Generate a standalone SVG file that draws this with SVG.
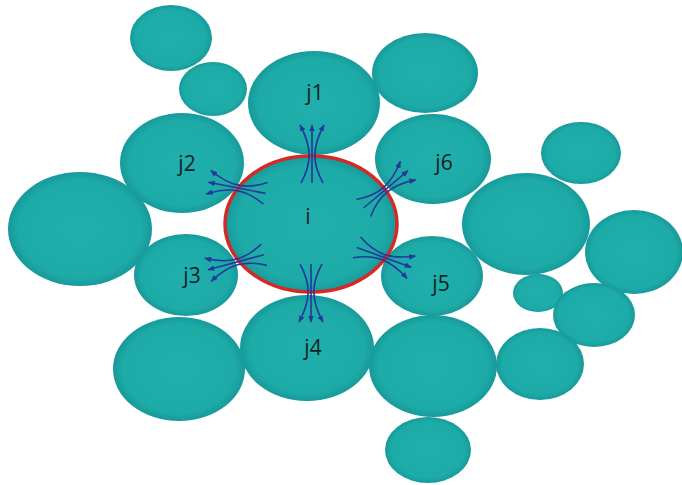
<svg xmlns="http://www.w3.org/2000/svg" width="682" height="485" viewBox="0 0 682 485">
  <defs>
    <radialGradient id="ball" cx="50%" cy="50%" r="50%">
      <stop offset="0%" stop-color="#20afac"/>
      <stop offset="85%" stop-color="#1daba8"/>
      <stop offset="100%" stop-color="#17999a"/>
    </radialGradient>
    <marker id="tip" viewBox="0 0 10 10" refX="9" refY="5" markerWidth="7" markerHeight="7" markerUnits="userSpaceOnUse" orient="auto">
      <path d="M0,1 L10,5 L0,9 Z" fill="#23389a" stroke="none"/>
    </marker>
    <!-- three flux lines pinched at the boundary, outward along +x -->
    <g id="flux">
      <path d="M-28,-11 C-8,0 8,0 30,-12"/>
      <path d="M-28,0 L30,0"/>
      <path d="M-28,11 C-8,0 8,0 30,12"/>
    </g>
  </defs>
  <style>
    .cell { fill: url(#ball); }
    .centre { fill: url(#ball); stroke: #d32a26; stroke-width: 3.5; }
    .lbl { font-family: "Open Sans", "Noto Sans", sans-serif; font-size: 21px; fill: #142222; text-anchor: middle; }
    #connectors { fill: none; stroke: #23389a; stroke-width: 1.6; marker-end: url(#tip); }
  </style>
  <rect width="682" height="485" fill="#ffffff"/>

  <!-- surrounding cells -->
  <g id="c-topleft"><ellipse class="cell" cx="171" cy="38" rx="41" ry="33"/></g>
  <g id="c-small1"><ellipse class="cell" cx="213" cy="89" rx="34" ry="27"/></g>
  <g id="c-topright"><ellipse class="cell" cx="425" cy="73" rx="53" ry="40"/></g>
  <g id="c-left"><ellipse class="cell" cx="80" cy="229" rx="72" ry="57"/></g>
  <g id="c-right"><ellipse class="cell" cx="526" cy="224" rx="64" ry="51"/></g>
  <g id="c-right-top"><ellipse class="cell" cx="581" cy="153" rx="40" ry="31"/></g>
  <g id="c-farright"><ellipse class="cell" cx="634" cy="252" rx="49" ry="42"/></g>
  <g id="c-tiny"><ellipse class="cell" cx="538" cy="293" rx="25" ry="19"/></g>
  <g id="c-r2"><ellipse class="cell" cx="594" cy="315" rx="41" ry="32"/></g>
  <g id="c-r3"><ellipse class="cell" cx="540" cy="364" rx="44" ry="36"/></g>
  <g id="c-botleft"><ellipse class="cell" cx="179" cy="369" rx="66" ry="52"/></g>
  <g id="c-botright"><ellipse class="cell" cx="433" cy="366" rx="64" ry="51"/></g>
  <g id="c-bottom"><ellipse class="cell" cx="428" cy="450" rx="43" ry="33"/></g>

  <!-- neighbours j1..j6 -->
  <g id="j1"><ellipse class="cell" cx="314" cy="103" rx="66" ry="52"/><text class="lbl" x="315" y="100">j1</text></g>
  <g id="j2"><ellipse class="cell" cx="182" cy="163" rx="62" ry="50"/><text class="lbl" x="187" y="171">j2</text></g>
  <g id="j6"><ellipse class="cell" cx="433" cy="159" rx="58" ry="45"/><text class="lbl" x="444" y="170">j6</text></g>
  <g id="j3"><ellipse class="cell" cx="186" cy="275" rx="52" ry="41"/><text class="lbl" x="192" y="283">j3</text></g>
  <g id="j5"><ellipse class="cell" cx="432" cy="276" rx="51" ry="40"/><text class="lbl" x="441" y="291">j5</text></g>
  <g id="j4"><ellipse class="cell" cx="307" cy="348" rx="67" ry="53"/><text class="lbl" x="313" y="355">j4</text></g>

  <!-- central cell i -->
  <g id="i"><ellipse class="centre" cx="311" cy="224" rx="86" ry="68"/><text class="lbl" x="308" y="224">i</text></g>

  <!-- flux from i into each neighbour -->
  <g id="connectors">
    <use href="#flux" transform="translate(312,155) rotate(-90)"/>
    <use href="#flux" transform="translate(311,292) rotate(90)"/>
    <use href="#flux" transform="translate(238,188) rotate(191)"/>
    <use href="#flux" transform="translate(237,262) rotate(165)"/>
    <use href="#flux" transform="translate(385,190) rotate(-40)"/>
    <use href="#flux" transform="translate(383,257) rotate(20)"/>
  </g>
</svg>
